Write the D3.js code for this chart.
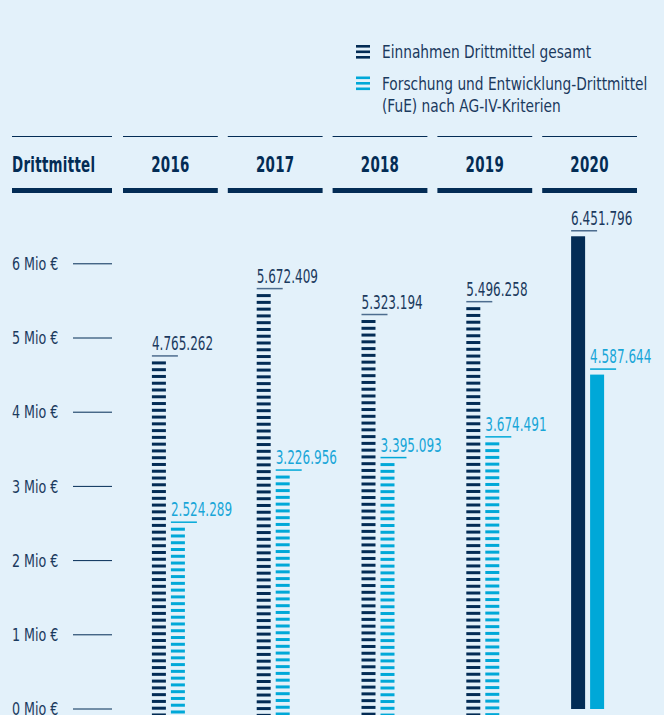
<!DOCTYPE html>
<html>
<head>
<meta charset="utf-8">
<script src="https://cdn.jsdelivr.net/npm/d3@7"></script>
<style>
  html, body { margin: 0; padding: 0; background: #e3f1fa; }
  svg { display: block; }
  text { font-family: "DejaVu Sans Condensed", "DejaVu Sans", sans-serif; }
</style>
</head>
<body>
<svg id="chart" width="664" height="715"></svg>
<script>
// ---- data ----
const years = ["2016", "2017", "2018", "2019", "2020"];
const totalValues = [4765262, 5672409, 5323194, 5496258, 6451796];
const fueValues = [2524289, 3226956, 3395093, 3674491, 4587644];
const stripedYears = ["2016", "2017", "2018", "2019"];
const tickValues = [0, 1000000, 2000000, 3000000, 4000000, 5000000, 6000000];
const tickLabels = ["0 Mio €", "1 Mio €", "2 Mio €", "3 Mio €", "4 Mio €", "5 Mio €", "6 Mio €"];
const headerLabel = "Drittmittel";
const legendLabels = [
  ["Einnahmen Drittmittel gesamt"],
  ["Forschung und Entwicklung-Drittmittel", "(FuE) nach AG-IV-Kriterien"]
];

// ---- styles ----
const NAVY = "#032c55";
const TEXT = "#1b3a5e";
const CYAN = "#00a8d8";
const W = 664, H = 715;

const svg = d3.select("#chart");
svg.append("rect").attr("width", W).attr("height", H).attr("fill", "#e3f1fa");

const de = d3.formatLocale({decimal: ",", thousands: ".", grouping: [3], currency: ["", " €"]});
const fmt = de.format(",d");

// condensed text helper: places text at (tx,ty) squeezed horizontally by sx
function ctext(sel, tx, ty, sx, str) {
  return sel.append("text").attr("x", 0).attr("y", 0)
    .attr("transform", `translate(${tx},${ty}) scale(${sx},1)`).text(str);
}

const x = d3.scaleBand().domain(years).range([118, 642]).paddingInner(0).paddingOuter(0);
const y = d3.scaleLinear().domain([0, 6000000]).range([715, 715 - 6 * 74.2]);

// ---- legend ----
const legend = svg.append("g");
const legendColors = [NAVY, CYAN];
const legendTop = [45, 76.5];
legendLabels.forEach((lines, i) => {
  const g = legend.append("g");
  [0, 5.5, 11].forEach(dy => {
    g.append("rect").attr("x", 356).attr("y", legendTop[i] + dy).attr("width", 14).attr("height", 2.6)
      .attr("fill", legendColors[i]);
  });
  lines.forEach((t, j) => {
    ctext(g, 382, legendTop[i] + 13 + j * 22.5, 0.9, t)
      .attr("fill", TEXT).attr("font-size", 17);
  });
});

// ---- header ----
const header = svg.append("g");
const cols = [{label: headerLabel, x0: 12, x1: 112, anchor: "start"}].concat(
  years.map(yr => ({label: yr, x0: x(yr) + 5, x1: x(yr) + x.bandwidth() - 5, anchor: "middle"}))
);
cols.forEach(c => {
  header.append("line").attr("x1", c.x0).attr("x2", c.x1).attr("y1", 136.5).attr("y2", 136.5)
    .attr("stroke", NAVY).attr("stroke-width", 1.2);
  header.append("rect").attr("x", c.x0).attr("y", 188).attr("width", c.x1 - c.x0).attr("height", 5)
    .attr("fill", NAVY);
  ctext(header, c.anchor === "start" ? c.x0 : (c.x0 + c.x1) / 2, 172, 0.71, c.label)
    .attr("text-anchor", c.anchor)
    .attr("font-size", 21).attr("font-weight", "bold").attr("letter-spacing", 0.4)
    .attr("fill", NAVY);
});

// ---- y axis ----
const axis = svg.append("g").attr("transform", "translate(0,-6.5)");
const axisFn = d3.axisLeft(y).tickValues(tickValues).tickFormat((d, i) => tickLabels[i]).tickSize(0);
const ag = axis.append("g").attr("transform", "translate(66,0)").call(axisFn);
ag.select(".domain").remove();
ag.selectAll(".tick text").attr("x", 0).attr("y", 0)
  .attr("transform", "translate(-54,0) scale(0.81,1)")
  .attr("text-anchor", "start")
  .attr("font-size", 17.4).attr("fill", TEXT).attr("dy", "0.36em")
  .style("font-family", '"DejaVu Sans Condensed", "DejaVu Sans", sans-serif');
ag.selectAll(".tick").append("line").attr("x1", 7).attr("x2", 46).attr("y1", 0).attr("y2", 0)
  .attr("stroke", NAVY).attr("stroke-width", 1);

// ---- bars ----
const period = 6.77, stripeH = 3;
const series = [
  {values: totalValues, color: NAVY, labelColor: TEXT, lineColor: "#4d6d8f", offset: -18.5},
  {values: fueValues, color: CYAN, labelColor: "#18a6d8", lineColor: CYAN, offset: 0.5}
];
const barW = 14;
const bars = svg.append("g");
series.forEach(s => {
  years.forEach((yr, i) => {
    const v = s.values[i];
    const cx = x(yr) + x.bandwidth() / 2;
    const bx = cx + s.offset;
    const top = y(v);
    const g = bars.append("g");
    if (stripedYears.includes(yr)) {
      g.selectAll("rect").data(d3.range(top, y(0), period)).join("rect")
        .attr("x", bx).attr("y", d => d).attr("width", barW).attr("height", stripeH)
        .attr("fill", s.color);
    } else {
      g.append("rect").attr("x", bx).attr("y", top).attr("width", barW).attr("height", y(0) - top - 6)
        .attr("fill", s.color);
    }
    g.append("line").attr("x1", bx).attr("x2", bx + 26).attr("y1", top - 5.5).attr("y2", top - 5.5)
      .attr("stroke", s.lineColor).attr("stroke-width", 1.5);
    ctext(g, bx, top - 11.5, 0.705, fmt(v)).attr("font-size", 19)
      .attr("fill", s.labelColor);
  });
});
</script>
</body>
</html>
